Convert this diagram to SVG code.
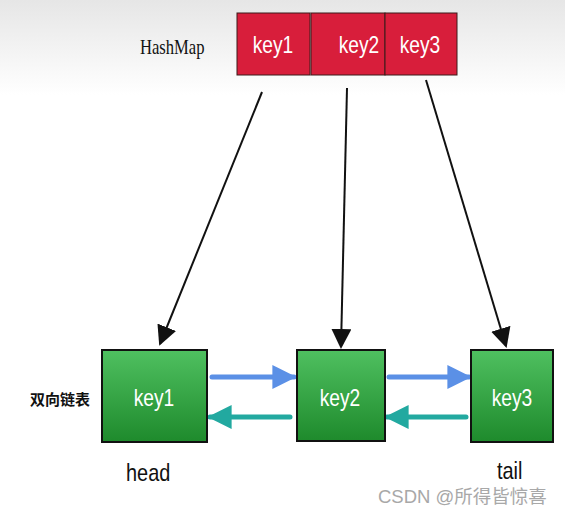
<svg xmlns="http://www.w3.org/2000/svg" width="565" height="515" viewBox="0 0 565 515">
<defs>
<linearGradient id="bg" x1="0" y1="0" x2="0" y2="1">
<stop offset="0" stop-color="#e6e6e6"/>
<stop offset="1" stop-color="#ffffff"/>
</linearGradient>
<linearGradient id="green" x1="0" y1="0" x2="0" y2="1">
<stop offset="0" stop-color="#4fc060"/>
<stop offset="1" stop-color="#1e8a2c"/>
</linearGradient>
<marker id="blk" viewBox="0 0 10 10" refX="9" refY="5" markerWidth="20" markerHeight="20" markerUnits="userSpaceOnUse" orient="auto">
<path d="M0,0 L10,5 L0,10 z" fill="#111"/>
</marker>
<marker id="blue" viewBox="0 0 10 10" refX="9" refY="5" markerWidth="24" markerHeight="24" markerUnits="userSpaceOnUse" orient="auto">
<path d="M0,0 L10,5 L0,10 z" fill="#5b90e6"/>
</marker>
<marker id="teal" viewBox="0 0 10 10" refX="9" refY="5" markerWidth="24" markerHeight="24" markerUnits="userSpaceOnUse" orient="auto">
<path d="M0,0 L10,5 L0,10 z" fill="#22a9a0"/>
</marker>
</defs>
<style>
.red{fill:#d81e3b;stroke:#3a1a1a;stroke-width:1}
.grn{fill:url(#green);stroke:#111;stroke-width:2}
.kt{font-family:"Liberation Sans",Arial,sans-serif;font-size:24px;fill:#fff;text-anchor:middle}
.lbl{fill:#111}
.blk{stroke:#111;stroke-width:2;fill:none;marker-end:url(#blk)}
.bl{stroke:#5b90e6;stroke-width:5;stroke-linecap:round;fill:none;marker-end:url(#blue)}
.tl{stroke:#22a9a0;stroke-width:5;stroke-linecap:round;fill:none;marker-end:url(#teal)}
</style>
<rect x="0" y="0" width="565" height="515" fill="#fff"/>
<rect x="0" y="0" width="565" height="95" fill="url(#bg)"/>
<text transform="translate(140,54) scale(0.83,1)" class="lbl" font-family="'Liberation Serif',serif" font-size="20">HashMap</text>
<g id="hm-key1"><rect class="red" x="237" y="13" width="73" height="62"/><text class="kt" transform="translate(273,53) scale(0.8,1)">key1</text></g>
<g id="hm-key2"><rect class="red" x="311" y="13" width="74" height="62"/><text class="kt" transform="translate(359,53) scale(0.8,1)">key2</text></g>
<g id="hm-key3"><rect class="red" x="385" y="13" width="72" height="62"/><text class="kt" transform="translate(420,53) scale(0.8,1)">key3</text></g>
<g id="connectors">
<line class="blk" x1="262" y1="92" x2="160" y2="344"/>
<line class="blk" x1="347" y1="88" x2="341" y2="347"/>
<line class="blk" x1="426" y1="80" x2="506" y2="346"/>
<line class="bl" x1="212" y1="377" x2="294" y2="377"/>
<line class="tl" x1="290" y1="417" x2="210" y2="417"/>
<line class="bl" x1="389" y1="377" x2="469" y2="377"/>
<line class="tl" x1="466" y1="417" x2="387" y2="417"/>
</g>
<text x="30" y="405" class="lbl" font-family="'Noto Sans CJK SC',sans-serif" font-size="15" font-weight="bold">双向链表</text>
<g id="ll-key1"><rect class="grn" x="102" y="350" width="105" height="92"/><text class="kt" transform="translate(154,406) scale(0.8,1)">key1</text></g>
<g id="ll-key2"><rect class="grn" x="297" y="350" width="88" height="91"/><text class="kt" transform="translate(340,406) scale(0.8,1)">key2</text></g>
<g id="ll-key3"><rect class="grn" x="471" y="350" width="82" height="92"/><text class="kt" transform="translate(512,406) scale(0.8,1)">key3</text></g>
<text transform="translate(126,481) scale(0.83,1)" class="lbl" font-family="'Liberation Sans',sans-serif" font-size="24">head</text>
<text transform="translate(497,479) scale(0.83,1)" class="lbl" font-family="'Liberation Sans',sans-serif" font-size="24">tail</text>
<text x="378" y="503" font-family="'Liberation Sans','Noto Sans CJK SC',sans-serif" font-size="18.5" fill="#a8a8a8">CSDN @所得皆惊喜</text>
</svg>
